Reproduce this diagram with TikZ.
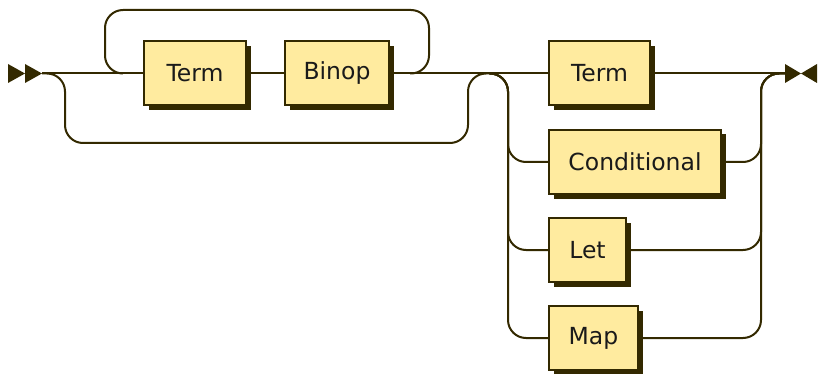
\documentclass[tikz,border=0pt]{standalone}
\usepackage{fontspec}
\setmainfont{DejaVu Sans}
\usetikzlibrary{shadows}
\definecolor{rrline}{HTML}{332900}
\definecolor{rrfill}{HTML}{FFEB9F}
\definecolor{rrtext}{HTML}{1A1A1A}
\begin{document}
\begin{tikzpicture}[x=1pt,y=-1pt,
  rail/.style={draw=rrline, line width=2pt, rounded corners=18pt},
  nt/.style={draw=rrline, fill=rrfill, line width=2pt, minimum height=64pt, inner sep=0pt,
    font=\fontsize{23.5}{28}\selectfont, text=rrtext,
    drop shadow={shadow xshift=4.5pt, shadow yshift=-4.5pt, fill=rrline, opacity=1}},
  tip/.style={fill=rrline}]
\useasboundingbox (0,0) rectangle (818,374);
% nodes
\node[nt, minimum width=102pt] (t1) at (195,73.5) {Term};
\node[nt, minimum width=104pt] (bin) at (337,73.5) {Binop};
\node[nt, minimum width=101pt] (t2) at (599.5,73.5) {Term};
\node[nt, minimum width=172pt] (cond) at (635,162) {Conditional};
\node[nt, minimum width=77pt] (let) at (587.5,250) {Let};
\node[nt, minimum width=89pt] (map) at (593.5,338) {Map};
% key coordinates
\coordinate (s) at (42,73.5);
\coordinate (e) at (785,73.5);
\coordinate (ch) at (489,73.5);
\coordinate (cr) at (761,73.5);
\coordinate (lpl) at (105,10);
\coordinate (lpr) at (429,73.5);
\coordinate (bpl) at (65,143);
\coordinate (bpr) at (468,73.5);
% main line
\draw[rail] (s) -- (t1);
\draw[rail] (t1) -- (bin);
\draw[rail] (bin) -- (t2);
\draw[rail] (t2) -- (e);
% repetition loop
\draw[rail] ([xshift=-20pt]t1.west) -| (lpl) -| (lpr) -- ([xshift=20pt]bin.east);
% bypass
\draw[rail] (s) -| (bpl) -| (bpr) -- (ch);
% choice left
\draw[rail] (ch) -| ([xshift=-40pt]cond.west) -- (cond.west);
\draw[rail] (ch) -| ([xshift=-40pt]let.west) -- (let.west);
\draw[rail] (ch) -| ([xshift=-40pt]map.west) -- (map.west);
% choice right
\draw[rail] (cond.east) -| (cr) -- (e);
\draw[rail] (let.east) -| (cr) -- (e);
\draw[rail] (map.east) -| (cr) -- (e);
% start and end markers
\fill[tip] (8,64) -- (25,73.5) -- (8,83) -- cycle;
\fill[tip] (25,64) -- (42,73.5) -- (25,83) -- cycle;
\fill[tip] (785,64) -- (801,73.5) -- (785,83) -- cycle;
\fill[tip] (817,64) -- (801,73.5) -- (817,83) -- cycle;
\end{tikzpicture}
\end{document}
